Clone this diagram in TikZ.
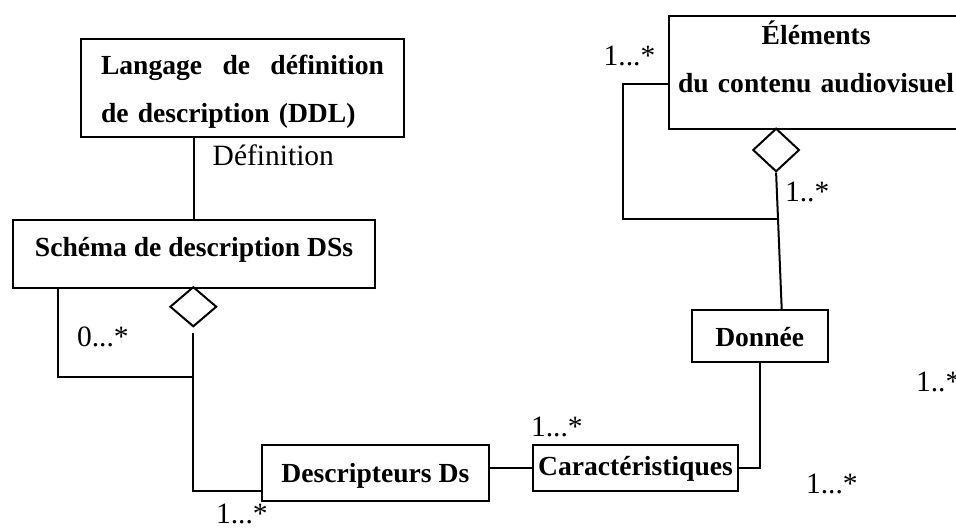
\documentclass[tikz,border=0pt]{standalone}
\usepackage{fontspec}
\setmainfont{Liberation Serif}
\usetikzlibrary{shapes.geometric}

\begin{document}
\begin{tikzpicture}[x=0.5pt, y=-0.5pt, line width=1pt,
    box/.style={draw, anchor=north west, inner sep=0pt,
      font=\fontsize{13.8}{24}\selectfont\bfseries},
    agg/.style={draw, diamond, inner sep=0pt},
    note/.style={anchor=base west, inner sep=0pt,
      font=\fontsize{14.75}{17}\selectfont}]

      % Page frame
      \useasboundingbox (0,0) rectangle (956,527);

      % Classes
      \node[box, minimum width=161.5pt, text width=141.5pt, align=left,
        text height=17.65pt, text depth=31.35pt] (ddl) at (80,38)
        {\makebox[141.5pt]{Langage\hfill de\hfill définition}\\de description (DDL)};
      \node[box, minimum width=181pt, text height=18pt, text depth=16pt]
        (dss) at (12,219) {Schéma de description DSs};
      \node[box, minimum width=147.4pt, text width=140pt, align=center,
        text height=14.15pt, text depth=42.5pt] (eac) at (667.7,15)
        {Éléments\\du contenu audiovisuel};
      \node[box, minimum width=113.35pt, text height=18.7pt, text depth=9.15pt]
        (desc) at (261,444.3) {Descripteurs Ds};
      \node[box, minimum width=102.2pt, text height=14.85pt, text depth=8pt]
        (car) at (532.3,444.3) {Caractéristiques};
      \node[box, minimum width=68pt, text height=18pt, text depth=8pt]
        (don) at (690.7,309) {Donnée};

      % Aggregation diamonds
      \node[agg, minimum width=23.35pt, minimum height=20pt] (agg1) at (193.3,306.7) {};
      \node[agg, minimum width=23.3pt, minimum height=21.7pt] (agg2) at (776.1,150) {};

      % Junctions
      \coordinate (j1) at (193.3,377);
      \coordinate (j2) at (778.2,219);

      % Connecting lines
      \draw (dss.north) -- (dss.north |- ddl.south);
      \draw ([xshift=23pt]dss.south west) |- (j1);
      \draw ([yshift=-2.5pt]agg1.south) |- ([yshift=-8.9pt]desc.west);
      \draw (car.west -| desc.east) -- (car.west);
      \draw (car.east) -| (don.south);
      \draw ([xshift=11pt]don.north) -- (agg2.south);
      \draw ([yshift=-5.8pt]eac.west) -- ++(-22.2pt,0) |- (j2);

      % Labels
      \node[note] (defl) at (211.7,165.7) {Définition};
      \node[note] (m1) at (76,346) {0...*};
      \node[note] (m2) at (602.7,65) {1...*};
      \node[note] (m3) at (784,201.7) {1..*};
      \node[note] (m4) at (530,436.7) {1...*};
      \node[note] (m5) at (805,493.3) {1...*};
      \node[note] (m6) at (915,391.7) {1..*};
      \node[note] (m7) at (215,523) {1...*};

    \end{tikzpicture}
\end{document}
